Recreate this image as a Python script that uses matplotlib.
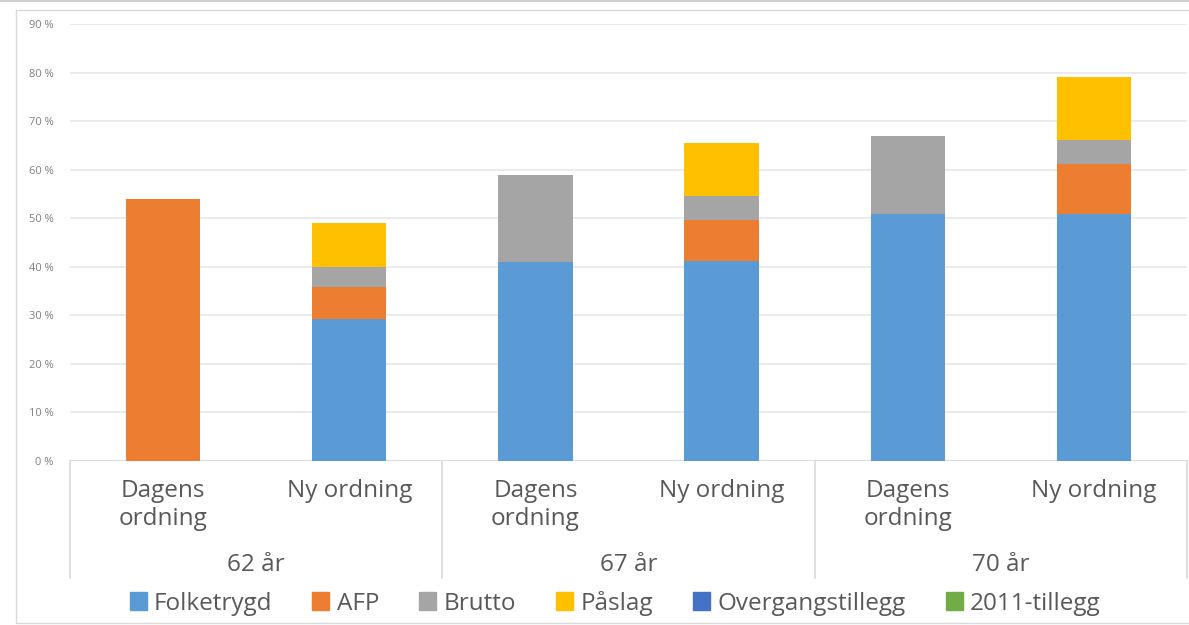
import numpy as np
import matplotlib.pyplot as plt
from matplotlib.patches import Rectangle
from matplotlib.lines import Line2D

plt.rcParams['font.family'] = ['Open Sans', 'DejaVu Sans']

# data
groups = ["62 år", "67 år", "70 år"]
sub_labels = ["Dagens\nordning", "Ny ordning"] * 3
series = ["Folketrygd", "AFP", "Brutto", "Påslag", "Overgangstillegg", "2011-tillegg"]
colors = ["#5B9BD5", "#ED7D31", "#A5A5A5", "#FFC000", "#4472C4", "#70AD47"]
folketrygd = [0, 29.3, 40.9, 41.2, 50.9, 50.9]
afp = [54.0, 6.6, 0, 8.4, 0, 10.2]
brutto = [0, 4.0, 18.1, 4.9, 16.1, 5.0]
paslag = [0, 9.1, 0, 11.0, 0, 12.9]
overgang = [0, 0, 0, 0, 0, 0]
tillegg2011 = [0, 0, 0, 0, 0, 0]

W, H = 1189, 625
fig = plt.figure(figsize=(W / 100, H / 100), dpi=100)

# chart frame
fig.add_artist(Line2D([0, 1], [1 - 1 / H, 1 - 1 / H], color="#D0D0D0", lw=1.5))
fig.add_artist(Rectangle((16 / W, 2 / H), 1.2, 1 - 12 / H, transform=fig.transFigure,
                         fill=False, ec="#D9D9D9", lw=1))

x0, x1, ytop, ybot = 70, 1187, 24, 461
ax = fig.add_axes([x0 / W, 1 - ybot / H, (x1 - x0) / W, (ybot - ytop) / H])

data = [folketrygd, afp, brutto, paslag, overgang, tillegg2011]
x = np.arange(len(sub_labels))
bottom = np.zeros(len(x))
for name, vals, c in zip(series, data, colors):
    ax.bar(x, vals, 0.40, bottom=bottom, color=c, label=name, zorder=3)
    bottom += np.array(vals)

ax.set_xlim(-0.5, 5.5)
ax.set_ylim(0, 90)
ax.set_yticks(range(0, 91, 10))
ax.set_yticklabels([f"{v} %" for v in range(0, 91, 10)], fontsize=8, color="#808080")
ax.tick_params(axis="y", length=0, pad=12)
ax.set_xticks([])
ax.grid(axis="y", color="#E8E8E8", lw=1.2, zorder=0)
for s in ax.spines.values():
    s.set_visible(False)
ax.axhline(0, color="#D9D9D9", lw=1.2, zorder=2)

# category axis: separators and labels
ax_h = ybot - ytop
yb = -(578 - ybot) / ax_h
for xs in [-0.5, 1.5, 3.5, 5.5]:
    ax.plot([xs, xs], [0, yb], transform=ax.get_xaxis_transform(), color="#D9D9D9",
            lw=1.2, clip_on=False)
for xi, lab in zip(x, sub_labels):
    ax.text(xi, -(479 - ybot) / ax_h, lab, transform=ax.get_xaxis_transform(),
            ha="center", va="top", fontsize=17.5, color="#595959", linespacing=1.22)
for gi, g in enumerate(groups):
    ax.text(2 * gi + 0.5, -(565 - ybot) / ax_h, g, transform=ax.get_xaxis_transform(),
            ha="center", va="center", fontsize=17.5, color="#595959")

handles = [Rectangle((0, 0), 1, 1, color=c) for c in colors]
fig.legend(handles, series, loc="center", bbox_to_anchor=(615 / W, 1 - 603 / H), ncol=6,
           frameon=False, fontsize=17.5, labelcolor="#595959", handlelength=0.7,
           handleheight=0.7, handletextpad=0.3, columnspacing=1.65)

fig.savefig("out.png", dpi=100)
